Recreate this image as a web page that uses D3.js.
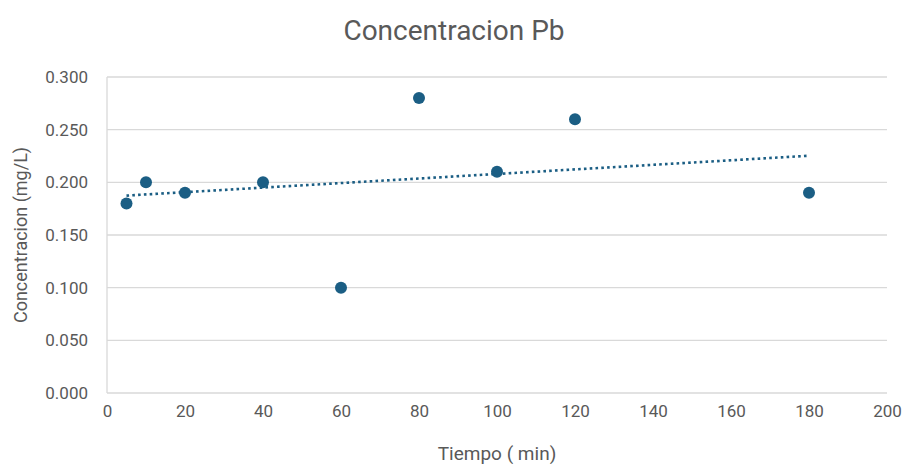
<!DOCTYPE html>
<html>
<head>
<meta charset="utf-8">
<script src="https://cdn.jsdelivr.net/npm/d3@7"></script>
<style>
  html, body { margin: 0; padding: 0; background: #ffffff; }
  svg { display: block; }
  text { font-family: Roboto, "Open Sans", sans-serif; fill: #595959; }
</style>
</head>
<body>
<svg id="chart" width="905" height="464"></svg>
<script>
// Sampling times (min) and measured lead concentration (mg/L)
const tiempo = [5, 10, 20, 40, 60, 80, 100, 120, 180];
const concentracion = [0.18, 0.20, 0.19, 0.20, 0.10, 0.28, 0.21, 0.26, 0.19];
const xTicks = [0, 20, 40, 60, 80, 100, 120, 140, 160, 180, 200];
const yTicks = [0, 0.05, 0.10, 0.15, 0.20, 0.25, 0.30];

const svg = d3.select("#chart");
const margin = { left: 107, right: 18, top: 77, bottom: 71 };
const W = 905, H = 464;

const x = d3.scaleLinear().domain([0, 200]).range([margin.left, W - margin.right]);
const y = d3.scaleLinear().domain([0, 0.30]).range([H - margin.bottom, margin.top]);

const gridColor = "#d9d9d9";
const markColor = "#1b5e84";
const tickFont = 17;

// Horizontal gridlines
svg.append("g")
  .selectAll("line")
  .data(yTicks)
  .join("line")
  .attr("x1", x(0)).attr("x2", x(200))
  .attr("y1", d => y(d)).attr("y2", d => y(d))
  .attr("stroke", gridColor).attr("stroke-width", 1.3);

// Left value axis line
svg.append("line")
  .attr("x1", x(0)).attr("x2", x(0))
  .attr("y1", y(0.30)).attr("y2", y(0))
  .attr("stroke", gridColor).attr("stroke-width", 1.3);

// Y axis
const yAxis = d3.axisLeft(y).tickValues(yTicks).tickFormat(d3.format(".3f")).tickSize(0).tickPadding(19);
svg.append("g")
  .attr("transform", `translate(${x(0)},0)`)
  .call(yAxis)
  .call(g => g.select(".domain").remove())
  .selectAll("text")
  .attr("font-size", tickFont)
  .style("font-family", "Roboto, 'Open Sans', sans-serif")
  .attr("fill", "#595959");

// X axis
const xAxis = d3.axisBottom(x).tickValues(xTicks).tickFormat(d3.format("d")).tickSize(0).tickPadding(12);
svg.append("g")
  .attr("transform", `translate(0,${y(0)})`)
  .call(xAxis)
  .call(g => g.select(".domain").remove())
  .selectAll("text")
  .attr("font-size", tickFont)
  .style("font-family", "Roboto, 'Open Sans', sans-serif")
  .attr("fill", "#595959");

// Linear trendline (least squares fit over the measurements)
const n = tiempo.length;
const mx = d3.mean(tiempo), my = d3.mean(concentracion);
let sxy = 0, sxx = 0;
for (let i = 0; i < n; i++) {
  sxy += (tiempo[i] - mx) * (concentracion[i] - my);
  sxx += (tiempo[i] - mx) ** 2;
}
const slope = sxy / sxx;
const intercept = my - slope * mx;
const trendX = d3.extent(tiempo);
svg.append("path")
  .datum(trendX.map(t => [t, intercept + slope * t]))
  .attr("d", d3.line().x(d => x(d[0])).y(d => y(d[1])))
  .attr("fill", "none")
  .attr("stroke", markColor)
  .attr("stroke-width", 2.6)
  .attr("stroke-dasharray", "2.6 3.2");

// Data points
svg.append("g")
  .selectAll("circle")
  .data(tiempo.map((t, i) => [t, concentracion[i]]))
  .join("circle")
  .attr("cx", d => x(d[0]))
  .attr("cy", d => y(d[1]))
  .attr("r", 6)
  .attr("fill", markColor);

// Title
svg.append("text")
  .attr("x", 454).attr("y", 40)
  .attr("text-anchor", "middle")
  .attr("font-size", 28)
  .text("Concentracion Pb");

// Axis titles
svg.append("text")
  .attr("x", x(100)).attr("y", 460)
  .attr("text-anchor", "middle")
  .attr("font-size", 19)
  .text("Tiempo ( min)");

svg.append("text")
  .attr("transform", `translate(27,${(y(0) + y(0.3)) / 2}) rotate(-90)`)
  .attr("text-anchor", "middle")
  .attr("font-size", 18)
  .text("Concentracion (mg/L)");
</script>
</body>
</html>
